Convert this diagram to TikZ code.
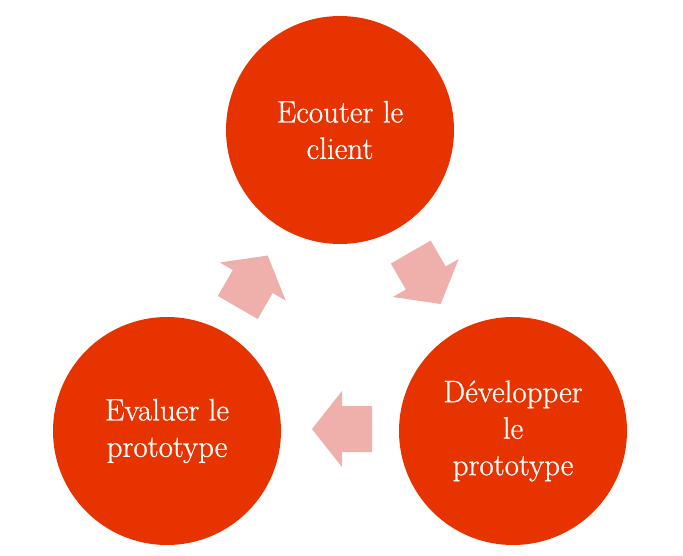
\documentclass[tikz,border=0pt]{standalone}
\usepackage{fontspec}
\newfontfamily\labelfont{Latin Modern Roman}[FakeBold=0.8]
\definecolor{circred}{HTML}{E63300}
\definecolor{arrowpink}{HTML}{EFAFAA}
\begin{document}
\begin{tikzpicture}[x=1pt,y=-1pt,
  stage/.style={circle, fill=circred, draw=none, minimum size=228pt, inner sep=0pt,
    text=white, align=center, font=\labelfont\fontsize{31}{36.5}\selectfont},
  arrowfill/.style={fill=arrowpink, draw=none}]
\useasboundingbox (0,0) rectangle (683,555);
\node[stage] (top) at (340,130) {Ecouter le\\client};
\node[stage] (right) at (513,431) {Développer\\le\\prototype};
\node[stage] (left) at (167,431) {Evaluer le\\prototype};
% block arrows
\fill[arrowfill, shift={(425.75,278)}, rotate=-60]
  (-30,-23) -- (0,-23) -- (0,-38) -- (30,0) -- (0,38) -- (0,23) -- (-30,23) -- cycle;
\fill[arrowfill, shift={(342,429)}, rotate=180]
  (-30,-23) -- (0,-23) -- (0,-38) -- (30,0) -- (0,38) -- (0,23) -- (-30,23) -- cycle;
\fill[arrowfill, shift={(252.75,281.5)}, rotate=60]
  (-30,-23) -- (0,-23) -- (0,-38) -- (30,0) -- (0,38) -- (0,23) -- (-30,23) -- cycle;
\end{tikzpicture}
\end{document}
